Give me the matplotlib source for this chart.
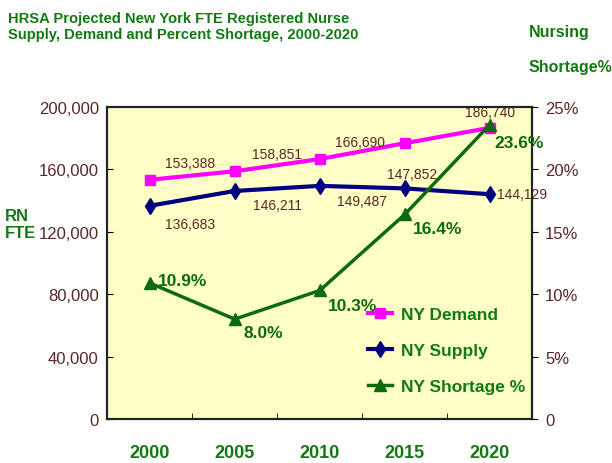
import numpy as np
import matplotlib
matplotlib.use('Agg')
from matplotlib import pyplot as plt

# data
years = ['2000', '2005', '2010', '2015', '2020']
demand = [153388, 158851, 166690, 176856, 186740]
supply = [136683, 146211, 149487, 147852, 144129]
shortage = [10.9, 8.0, 10.3, 16.4, 23.6]

demand_labels = ['153,388', '158,851', '166,690', '', '186,740']
supply_labels = ['136,683', '146,211', '149,487', '147,852', '144,129']
shortage_labels = ['10.9%', '8.0%', '10.3%', '16.4%', '23.6%']

left_ticks = [0, 40000, 80000, 120000, 160000, 200000]
right_ticks = [0, 5, 10, 15, 20, 25]
right_ticklabels = ['0', '5%', '10%', '15%', '20%', '25%']

green = '#137a13'
line_green = '#0c6b0c'
maroon = '#5a2626'

plt.rcParams['font.family'] = ['Liberation Sans', 'DejaVu Sans']

fig = plt.figure(figsize=(6.12, 4.64), dpi=100)
ax = fig.add_axes([0.175, 0.095, 0.695, 0.672])
ax.set_facecolor('#ffffc6')
ax2 = ax.twinx()

x = np.arange(len(years))

# main lines
l1, = ax.plot(x, demand, color='#ff00ff', lw=3, marker='s', ms=7, label='NY Demand')
l2, = ax.plot(x, supply, color='#000080', lw=3, marker='d', ms=8, label='NY Supply')
l3, = ax2.plot(x, shortage, color=line_green, lw=2.5, marker='^', ms=8, label='NY Shortage %')

ax.set_xlim(-0.5, 4.5)
ax.set_ylim(0, 200000)
ax2.set_ylim(0, 25)

# left axis
ax.set_yticks(left_ticks)
ax.set_yticklabels([f'{v:,}' for v in left_ticks], color=maroon, fontsize=12)
ax.tick_params(axis='y', direction='in', length=4, pad=6)
# right axis
ax2.set_yticks(right_ticks)
ax2.set_yticklabels(right_ticklabels, color=maroon, fontsize=12)
ax2.tick_params(axis='y', direction='out', length=4, pad=5)

# x axis: labels at centers, marks between categories
ax.set_xticks(x)
ax.set_xticklabels(years, color=green, fontsize=13, fontweight='bold')
ax.tick_params(axis='x', which='major', length=0, pad=18)
ax.set_xticks(x[:-1] + 0.5, minor=True)
ax.tick_params(axis='x', which='minor', direction='in', length=4)

for a in (ax, ax2):
    for s in a.spines.values():
        s.set_linewidth(1.5)
        s.set_color('#222222')

# data labels
d_off = [(0.48, 6500), (0.5, 6500), (0.47, 6500), (0, 0), (0.0, 5500)]
for i, t in enumerate(demand_labels):
    if t:
        ax.text(x[i] + d_off[i][0], demand[i] + d_off[i][1], t, color=maroon,
                fontsize=10, ha='center', va='bottom')
s_off = [(0.48, -7000, 'center', 'top'), (0.5, -4500, 'center', 'top'),
         (0.5, -5000, 'center', 'top'), (0.08, 5000, 'center', 'bottom'),
         (0.08, 0, 'left', 'center')]
for i, t in enumerate(supply_labels):
    ax.text(x[i] + s_off[i][0], supply[i] + s_off[i][1], t, color=maroon,
            fontsize=10, ha=s_off[i][2], va=s_off[i][3])
p_off = [(0.1, 0.2, 'left', 'center'), (0.1, -0.5, 'left', 'top'),
         (0.1, -0.6, 'left', 'top'), (0.1, -0.5, 'left', 'top'),
         (0.05, -0.8, 'left', 'top')]
for i, t in enumerate(shortage_labels):
    ax2.text(x[i] + p_off[i][0], shortage[i] + p_off[i][1], t, color=line_green,
             fontsize=12.5, fontweight='bold', ha=p_off[i][2], va=p_off[i][3])

leg = ax2.legend(handles=[l1, l2, l3], loc='lower right', bbox_to_anchor=(1.02, 0.03),
                 frameon=False, fontsize=12.5, handlelength=1.4, labelspacing=1.2,
                 handletextpad=0.5)
for t in leg.get_texts():
    t.set_color(green)
    t.set_fontweight('bold')

# titles
fig.text(0.013, 0.975, 'HRSA Projected New York FTE Registered Nurse\nSupply, Demand and Percent Shortage, 2000-2020',
         color=green, fontsize=10.6, fontweight='bold', va='top', ha='left', linespacing=1.2)
fig.text(0.864, 0.93, 'Nursing', color=green, fontsize=11.5, fontweight='bold', va='center', ha='left')
fig.text(0.864, 0.855, 'Shortage%', color=green, fontsize=11.5, fontweight='bold', va='center', ha='left')
fig.text(0.008, 0.515, 'RN\nFTE', color=green, fontsize=12, fontweight='bold', va='center', ha='left',
         linespacing=1.1)

fig.savefig('out.png', dpi=100)
